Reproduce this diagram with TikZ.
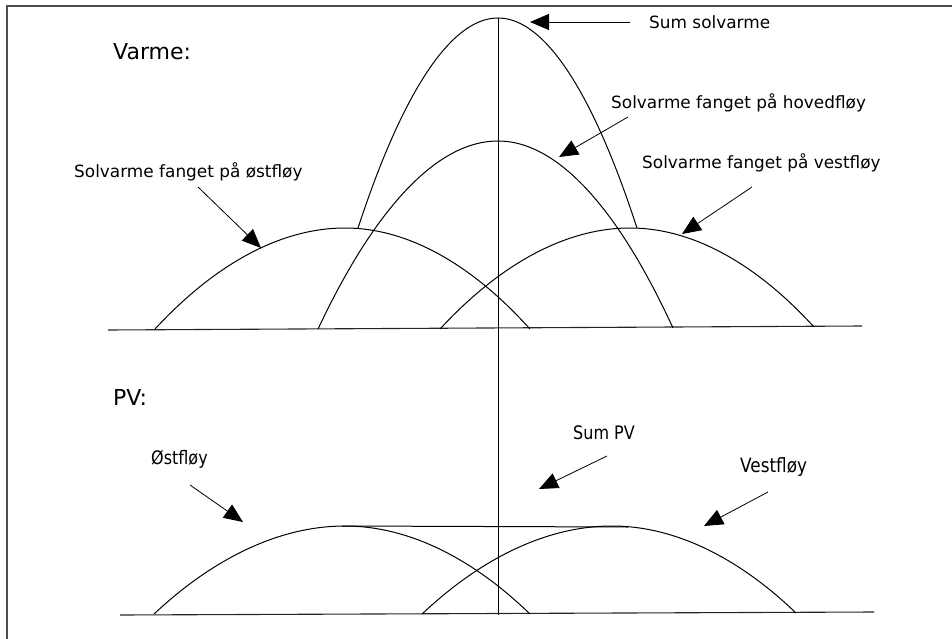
\documentclass[tikz,border=0pt]{standalone}
\usepackage{fontspec}
\setmainfont{DejaVu Sans}
\newfontfamily\condfont[FakeStretch=0.86]{DejaVu Sans}
\usetikzlibrary{arrows.meta}
\tikzset{
  curve/.style={line width=1pt, black},
  axis/.style={line width=1.1pt, black!85},
  pointer/.style={line width=0.8pt, -{Triangle[length=19pt,width=16pt]}},
  lab/.style={font=\fontsize{16.9}{18}\selectfont, inner sep=0pt, anchor=west},
  head/.style={font=\fontsize{22}{24}\selectfont, inner sep=0pt, anchor=west},
  clab/.style={font=\condfont\fontsize{18.6}{20}\selectfont, inner sep=0pt, anchor=west},
}
\begin{document}
\begin{tikzpicture}[x=1pt,y=-1pt]
\useasboundingbox (0,0) rectangle (952,639);
% frame
\draw[line width=1.3pt, black!70] (7,639) -- (7,6) -- (952,6);
% headings
\node[head] (varme) at (113,52) {Varme:};
\node[head] (pv) at (113,397) {PV:};
% upper section
\coordinate (ub1) at (108,330); \coordinate (ub2) at (862,326);
\draw[axis] (ub1) -- (ub2);
\draw[curve] (155,329) parabola bend (345,228) (530,329);
\draw[curve] (318,329) parabola bend (498,141) (673,328);
\draw[curve] (440,329) parabola bend (630,228) (814,327);
\draw[curve] (358,228) parabola bend (498,18) (637,228);
% central vertical
\coordinate (vtop) at (498,18); \coordinate (vbot) at (498,615);
\draw[line width=0.9pt] (vtop) -- (vbot);
% lower section
\coordinate (lb1) at (120,615); \coordinate (lb2) at (874,612);
\draw[axis] (lb1) -- (lb2);
\draw[curve] (154,614) parabola bend (345,526) (530,614);
\draw[curve] (422,614) parabola bend (612,526) (796,613);
\coordinate (h1) at (342,526); \coordinate (h2) at (628,527);
\draw[curve] (h1) -- (h2);
% labels upper
\node[lab] (sum) at (649,22) {Sum solvarme};
\node[lab] (ost) at (74,172) {Solvarme fanget på østfløy};
\node[lab] (hoved) at (611,103) {Solvarme fanget på hovedfløy};
\node[lab] (vest) at (642,163) {Solvarme fanget på vestfløy};
% labels lower
\node[clab] (pvost) at (151,459) {Østfløy};
\node[clab] (pvsum) at (573,433) {Sum PV};
\node[clab, font=\condfont\fontsize{19.6}{21}\selectfont] (pvvest) at (740,467) {Vestfløy};
% arrows upper
\coordinate (a1s) at (630,22); \coordinate (a1e) at (530,22);
\draw[pointer] (a1s) -- (a1e);
\coordinate (a2s) at (198,187); \coordinate (a2e) at (261,248);
\draw[pointer] (a2s) -- (a2e);
\coordinate (a3s) at (628,117); \coordinate (a3e) at (559,157);
\draw[pointer] (a3s) -- (a3e);
\coordinate (a4s) at (752,187); \coordinate (a4e) at (682,234);
\draw[pointer] (a4s) -- (a4e);
% arrows lower
\coordinate (b1s) at (190,485); \coordinate (b1e) at (243,522);
\draw[pointer] (b1s) -- (b1e);
\coordinate (b2s) at (607,456); \coordinate (b2e) at (539,489);
\draw[pointer] (b2s) -- (b2e);
\coordinate (b3s) at (768,492); \coordinate (b3e) at (704,526);
\draw[pointer] (b3s) -- (b3e);
\end{tikzpicture}
\end{document}
